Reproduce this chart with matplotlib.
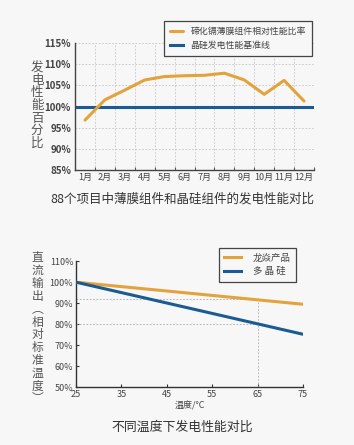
import matplotlib
matplotlib.use("Agg")
import matplotlib.pyplot as plt

plt.rcParams['font.family'] = ['Noto Sans CJK SC', 'DejaVu Sans']

# top chart data
months = ["1月", "2月", "3月", "4月", "5月", "6月", "7月", "8月", "9月", "10月", "11月", "12月"]
cdte_ratio = [96.8, 101.6, 103.9, 106.3, 107.1, 107.3, 107.4, 107.9, 106.3, 102.9, 106.2, 101.3]
baseline = 100
top_yticks = [85, 90, 95, 100, 105, 110, 115]

# bottom chart data
temps = [25, 75]
longyan = [100, 89.5]
poly_si = [100, 75.2]
temp_ticks = [25, 35, 45, 55, 65, 75]
bot_yticks = [50, 60, 70, 80, 90, 100, 110]
mark_temp = 65
mark_longyan = 92
mark_poly = 80

orange = "#E3A33C"
blue = "#1B5B93"
bg = "#F7F7F7"
txt = "#444444"

fig = plt.figure(figsize=(3.54, 4.45), dpi=100, facecolor=bg)

# ---- top chart ----
ax1 = fig.add_axes([0.212, 0.618, 0.675, 0.285], facecolor=bg)
x = [i + 0.5 for i in range(len(months))]
ax1.plot(x, cdte_ratio, color=orange, lw=2.2, solid_joinstyle="round",
         solid_capstyle="round", label="碲化镉薄膜组件相对性能比率", zorder=3)
ax1.axhline(baseline, color=blue, lw=2.2, label="晶硅发电性能基准线", zorder=2)
ax1.set_xlim(0, 12)
ax1.set_ylim(85, 115)
ax1.set_xticks(range(13))
ax1.set_xticklabels([])
ax1.set_xticks(x, minor=True)
ax1.set_xticklabels(months, minor=True, fontsize=6.5, color=txt)
ax1.tick_params(axis="x", which="minor", length=0, pad=2)
ax1.tick_params(axis="x", which="major", direction="in", length=2, color="#555555")
ax1.set_yticks(top_yticks)
ax1.set_yticklabels([f"{v}%" for v in top_yticks], fontsize=7, fontweight="bold", color=txt)
ax1.tick_params(axis="y", length=0, pad=3)
ax1.grid(True, which="major", ls=(0, (2, 2)), color="#C4C4C4", lw=0.6)
for s in ["top", "right"]:
    ax1.spines[s].set_visible(False)
for s in ["left", "bottom"]:
    ax1.spines[s].set_color("#444444")
    ax1.spines[s].set_linewidth(1.0)
leg1 = ax1.legend(loc="upper right", bbox_to_anchor=(1.01, 1.21), fontsize=6.4,
                  frameon=True, fancybox=False, edgecolor="#444444",
                  handlelength=1.5, borderpad=0.7, labelspacing=0.55, framealpha=1)
leg1.get_frame().set_facecolor(bg)
leg1.get_frame().set_linewidth(0.9)
for t in leg1.get_texts():
    t.set_color(txt)

# vertical stacked label, one character per line
fig.text(0.105, 0.763, "\n".join("发电性能百分比"), fontsize=9, color="#555555",
         ha="center", va="center", linespacing=0.96)
fig.text(0.515, 0.553, "88个项目中薄膜组件和晶硅组件的发电性能对比", fontsize=9.0,
         color="#333333", ha="center", va="center")

# ---- bottom chart ----
ax2 = fig.add_axes([0.215, 0.130, 0.641, 0.283], facecolor=bg)
ax2.plot(temps, longyan, color=orange, lw=2.2, label="龙焱产品", zorder=3)
ax2.plot(temps, poly_si, color=blue, lw=2.2, label="多 晶 硅", zorder=3)
ax2.plot([25, mark_temp], [mark_longyan, mark_longyan], ls=(0, (2, 2)), color="#AAAAAA", lw=0.6)
ax2.plot([25, mark_temp], [mark_poly, mark_poly], ls=(0, (2, 2)), color="#AAAAAA", lw=0.6)
ax2.plot([mark_temp, mark_temp], [50, mark_longyan], ls=(0, (2, 2)), color="#AAAAAA", lw=0.6)
ax2.set_xlim(25, 75)
ax2.set_ylim(50, 110)
ax2.set_xticks(temp_ticks)
ax2.set_xticklabels([str(t) for t in temp_ticks], fontsize=6.5, color=txt)
ax2.set_yticks(bot_yticks)
ax2.set_yticklabels([f"{v}%" for v in bot_yticks], fontsize=6.5, color=txt)
ax2.tick_params(direction="in", length=2.5, color="#333333", pad=2)
for s in ["top", "right"]:
    ax2.spines[s].set_visible(False)
for s in ["left", "bottom"]:
    ax2.spines[s].set_color("#333333")
    ax2.spines[s].set_linewidth(1.0)
ax2.set_xlabel("温度/°C", fontsize=6.5, color=txt, labelpad=2)
leg2 = ax2.legend(loc="upper right", bbox_to_anchor=(0.97, 1.105), fontsize=6.8,
                  frameon=True, fancybox=False, edgecolor="#444444",
                  handlelength=1.8, borderpad=0.6, labelspacing=0.45, framealpha=1,
                  handletextpad=1.2, borderaxespad=0)
leg2.get_frame().set_facecolor(bg)
leg2.get_frame().set_linewidth(0.9)
for t in leg2.get_texts():
    t.set_color(txt)

fig.text(0.105, 0.262, "\n".join("直流输出︵相对标准温度︶"), fontsize=8.5, color="#555555",
         ha="center", va="center", linespacing=0.98)
fig.text(0.515, 0.040, "不同温度下发电性能对比", fontsize=9.3, color="#333333",
         ha="center", va="center")

fig.savefig("out.png", dpi=100, facecolor=bg)
plt.close()
